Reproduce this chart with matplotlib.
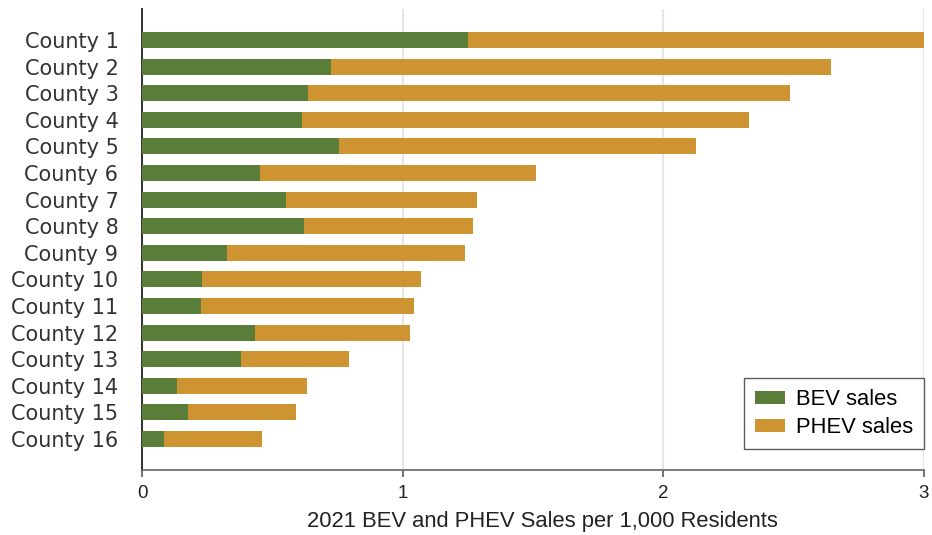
import matplotlib.pyplot as plt
import numpy as np

counties = ["County %d" % i for i in range(1, 17)]
bev = [1.25, 0.726, 0.635, 0.615, 0.755, 0.452, 0.552, 0.62, 0.325, 0.232,
       0.228, 0.432, 0.38, 0.135, 0.175, 0.085]
total = [3.0, 2.645, 2.487, 2.33, 2.125, 1.513, 1.286, 1.27, 1.239, 1.069,
         1.042, 1.027, 0.795, 0.633, 0.591, 0.459]
phev = [t - b for t, b in zip(total, bev)]

green = "#5a7d3a"
orange = "#cf9432"

fig = plt.figure(figsize=(9.32, 5.35), dpi=100)
ax = fig.add_axes([142 / 932, 1 - 470 / 535, (924 - 142) / 932, (470 - 9) / 535])

y = np.arange(len(counties))
ax.barh(y, bev, height=0.6, color=green, label="BEV sales", zorder=3)
ax.barh(y, phev, left=bev, height=0.6, color=orange, label="PHEV sales", zorder=3)

ax.set_ylim(len(counties) - 1 + 1.17, -1.17)
ax.set_xlim(0, 3.0)
ax.set_yticks(y)
ax.set_yticklabels(counties, fontsize=15.0, color="#333333", family="DejaVu Sans")
ax.tick_params(axis="y", length=0, pad=17)
ax.set_xticks([0, 1, 2, 3])
ax.set_xticklabels(["0", "1", "2", "3"], fontsize=13.5, family="Liberation Sans", color="#222222")
ax.tick_params(axis="x", length=5, width=1.5, color="#777777", pad=6)

for s in ["top", "right"]:
    ax.spines[s].set_visible(False)
ax.spines["left"].set_color("#222222")
ax.spines["left"].set_linewidth(1.3)
ax.spines["bottom"].set_color("#666666")
ax.spines["bottom"].set_linewidth(1.2)

ax.grid(axis="x", color="#e6e6e6", linewidth=1.5, zorder=0)
ax.set_axisbelow(True)

ax.set_xlabel("2021 BEV and PHEV Sales per 1,000 Residents", fontsize=15.8,
              family="Liberation Sans", color="#222222", labelpad=4)
ax.xaxis.set_label_coords((542 - 142) / 782, -0.09)
ax.xaxis.label.set_verticalalignment("center")
ax.xaxis.set_label_coords((542 - 142) / 782, -(521 - 470) / 461)

leg = ax.legend(loc="lower right", bbox_to_anchor=(1.0, 21 / 461),
                prop={"family": "Liberation Sans", "size": 15.8},
                frameon=True, fancybox=False, edgecolor="#333333",
                handlelength=1.36, handleheight=0.55, handletextpad=0.5,
                borderpad=0.5, labelspacing=0.3, borderaxespad=0)
leg.get_frame().set_linewidth(1.0)

fig.savefig("out.png", dpi=100)
